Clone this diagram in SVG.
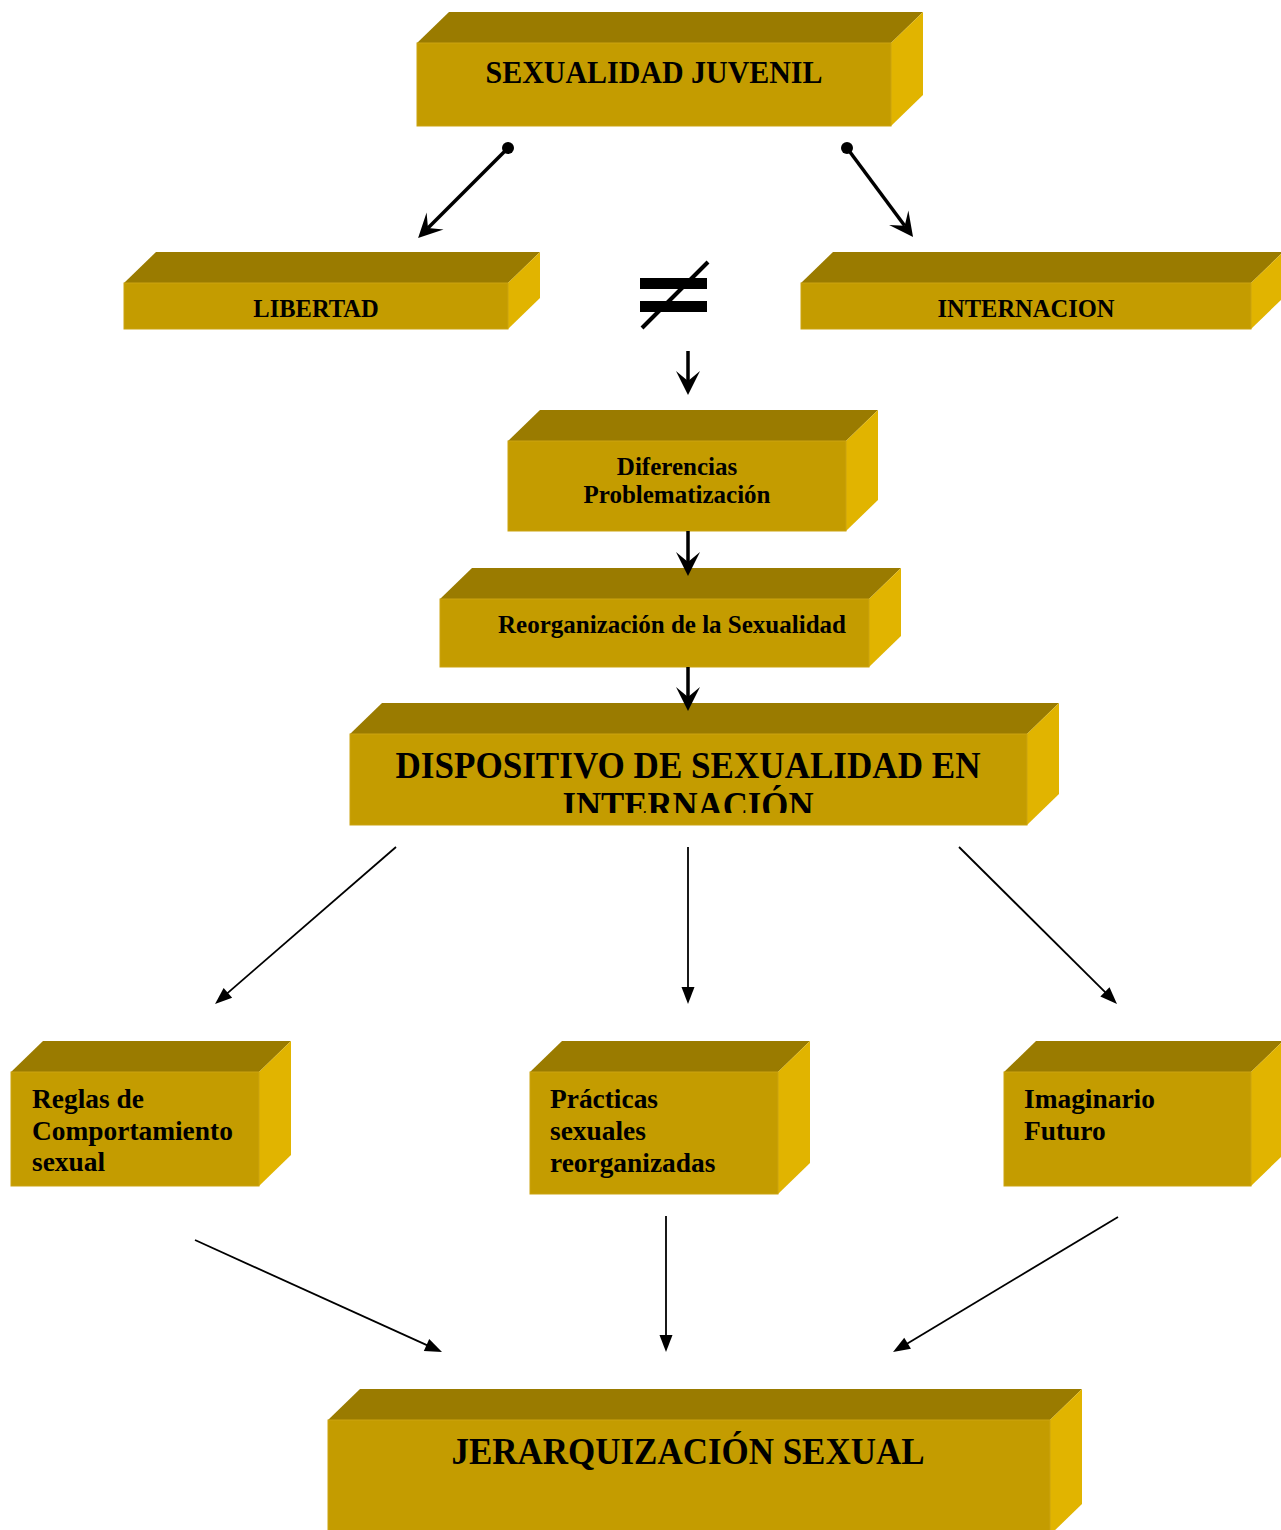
<svg xmlns="http://www.w3.org/2000/svg" width="1281" height="1530" viewBox="0 0 1281 1530">
<style>
.top{fill:#9A7B00;}
.front{fill:#C49C00;stroke:#CBA310;stroke-width:1;}
.side{fill:#E1B400;}
.t{font-family:"Liberation Serif","Times New Roman",serif;font-weight:bold;fill:#000;}
.c{text-anchor:middle;}
.thick{stroke:#000;stroke-width:3.5;fill:none;}
.thin{stroke:#000;stroke-width:1.8;fill:none;}
</style>
<defs>
<marker id="stealth" markerUnits="userSpaceOnUse" markerWidth="40" markerHeight="40" refX="0" refY="0" orient="auto" overflow="visible">
<path d="M14,0 L-10,-12 L0,0 L-10,12 Z" fill="#000"/>
</marker>
<marker id="tri" markerUnits="userSpaceOnUse" markerWidth="30" markerHeight="30" refX="0" refY="0" orient="auto" overflow="visible">
<path d="M10,0 L-7,-6.5 L-7,6.5 Z" fill="#000"/>
</marker>
<clipPath id="dispClip"><rect x="350" y="734" width="677" height="79"/></clipPath>
</defs>

<g id="n-sexualidad-juvenil">
<path class="top" d="M417,43 L449,12 L923,12 L891,43 Z"/>
<path class="side" d="M891,43 L923,12 L923,95 L891,126 Z"/>
<rect class="front" x="417" y="43" width="474" height="83"/>
<text class="t c" x="654" y="83" font-size="31" textLength="337" lengthAdjust="spacingAndGlyphs">SEXUALIDAD JUVENIL</text>
</g>

<g id="n-libertad">
<path class="top" d="M124,283 L156,252 L540,252 L508,283 Z"/>
<path class="side" d="M508,283 L540,252 L540,298 L508,329 Z"/>
<rect class="front" x="124" y="283" width="384" height="46"/>
<text class="t c" x="316" y="317" font-size="24.5">LIBERTAD</text>
</g>

<g id="n-internacion">
<path class="top" d="M801,283 L833,252 L1283,252 L1251,283 Z"/>
<path class="side" d="M1251,283 L1283,252 L1283,298 L1251,329 Z"/>
<rect class="front" x="801" y="283" width="450" height="46"/>
<text class="t c" x="1026" y="317" font-size="24.5">INTERNACION</text>
</g>

<g id="n-distinto">
<rect x="640" y="278" width="67" height="11" fill="#000"/>
<rect x="640" y="301" width="67" height="11" fill="#000"/>
<line x1="642" y1="328" x2="708" y2="262" stroke="#000" stroke-width="4"/>
</g>

<g id="n-diferencias">
<path class="top" d="M508,441 L540,410 L878,410 L846,441 Z"/>
<path class="side" d="M846,441 L878,410 L878,500 L846,531 Z"/>
<rect class="front" x="508" y="441" width="338" height="90"/>
<text class="t c" x="677" y="475" font-size="25">Diferencias</text>
<text class="t c" x="677" y="503" font-size="25">Problematización</text>
</g>

<g id="n-reorganizacion">
<path class="top" d="M440,599 L472,568 L901,568 L869,599 Z"/>
<path class="side" d="M869,599 L901,568 L901,636 L869,667 Z"/>
<rect class="front" x="440" y="599" width="429" height="68"/>
<text class="t c" x="672" y="633" font-size="25">Reorganización de la Sexualidad</text>
</g>

<g id="n-dispositivo">
<path class="top" d="M350,734 L382,703 L1059,703 L1027,734 Z"/>
<path class="side" d="M1027,734 L1059,703 L1059,794 L1027,825 Z"/>
<rect class="front" x="350" y="734" width="677" height="91"/>
<text class="t c" x="688" y="778" font-size="37" textLength="585" lengthAdjust="spacingAndGlyphs">DISPOSITIVO DE SEXUALIDAD EN</text>
<text class="t c" x="688" y="818" font-size="37" textLength="251" lengthAdjust="spacingAndGlyphs" clip-path="url(#dispClip)">INTERNACIÓN</text>
</g>

<g id="n-reglas">
<path class="top" d="M11,1072 L43,1041 L291,1041 L259,1072 Z"/>
<path class="side" d="M259,1072 L291,1041 L291,1155 L259,1186 Z"/>
<rect class="front" x="11" y="1072" width="248" height="114"/>
<text class="t" x="32" y="1108" font-size="27.4">Reglas de</text>
<text class="t" x="32" y="1140" font-size="27.4">Comportamiento</text>
<text class="t" x="32" y="1171" font-size="27.4">sexual</text>
</g>

<g id="n-practicas">
<path class="top" d="M530,1072 L562,1041 L810,1041 L778,1072 Z"/>
<path class="side" d="M778,1072 L810,1041 L810,1163 L778,1194 Z"/>
<rect class="front" x="530" y="1072" width="248" height="122"/>
<text class="t" x="550" y="1108" font-size="27.4">Prácticas</text>
<text class="t" x="550" y="1140" font-size="27.4">sexuales</text>
<text class="t" x="550" y="1172" font-size="27.4">reorganizadas</text>
</g>

<g id="n-imaginario">
<path class="top" d="M1004,1072 L1036,1041 L1283,1041 L1251,1072 Z"/>
<path class="side" d="M1251,1072 L1283,1041 L1283,1155 L1251,1186 Z"/>
<rect class="front" x="1004" y="1072" width="247" height="114"/>
<text class="t" x="1024" y="1108" font-size="27.4">Imaginario</text>
<text class="t" x="1024" y="1140" font-size="27.4">Futuro</text>
</g>

<g id="n-jerarquizacion">
<path class="top" d="M328,1420 L360,1389 L1082,1389 L1050,1420 Z"/>
<path class="side" d="M1050,1420 L1082,1389 L1082,1504 L1050,1535 Z"/>
<rect class="front" x="328" y="1420" width="722" height="115"/>
<text class="t c" x="688" y="1464" font-size="38" textLength="473" lengthAdjust="spacingAndGlyphs">JERARQUIZACIÓN SEXUAL</text>
</g>

<g id="connectors">
<circle cx="508" cy="148" r="6" fill="#000"/>
<circle cx="847" cy="148" r="6" fill="#000"/>
<line class="thick" x1="508" y1="148" x2="428" y2="228" marker-end="url(#stealth)"/>
<line class="thick" x1="847" y1="148" x2="904.7" y2="225.8" marker-end="url(#stealth)"/>
<line class="thick" x1="688" y1="351" x2="688" y2="381" marker-end="url(#stealth)"/>
<line class="thick" x1="688" y1="531" x2="688" y2="562" marker-end="url(#stealth)"/>
<line class="thick" x1="688" y1="667" x2="688" y2="697" marker-end="url(#stealth)"/>
<line class="thin" x1="396" y1="847" x2="222.6" y2="997.4" marker-end="url(#tri)"/>
<line class="thin" x1="688" y1="847" x2="688" y2="994" marker-end="url(#tri)"/>
<line class="thin" x1="959" y1="847" x2="1109.9" y2="996.9" marker-end="url(#tri)"/>
<line class="thin" x1="195" y1="1240" x2="432.9" y2="1347.9" marker-end="url(#tri)"/>
<line class="thin" x1="666" y1="1216" x2="666" y2="1342" marker-end="url(#tri)"/>
<line class="thin" x1="1118" y1="1217" x2="901.6" y2="1346.9" marker-end="url(#tri)"/>
</g>
</svg>
